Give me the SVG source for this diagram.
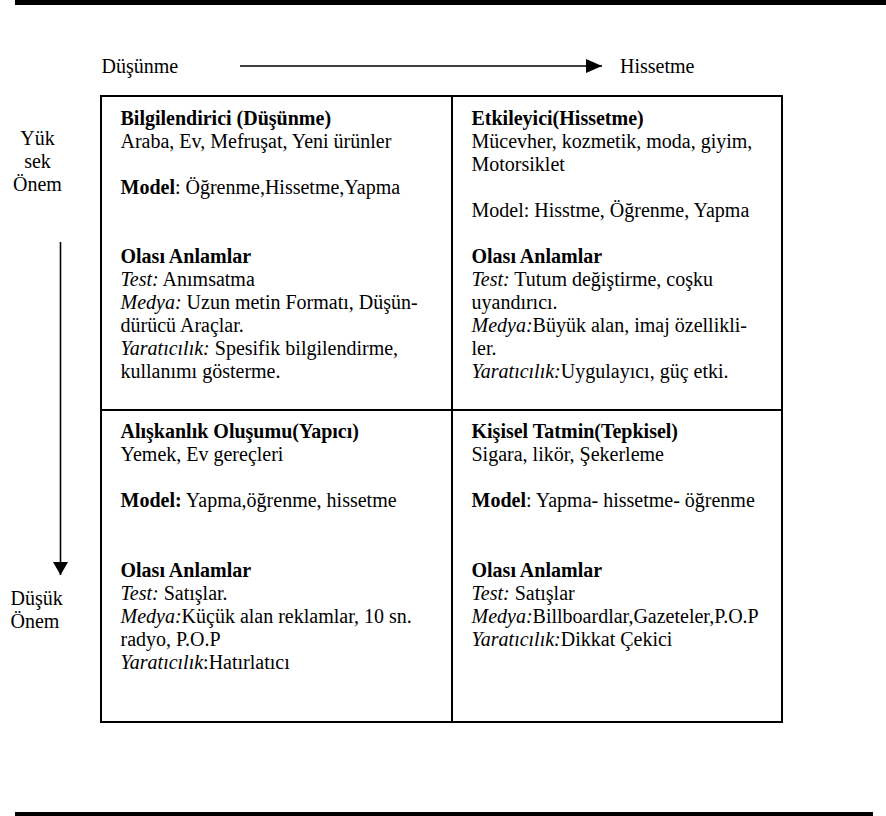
<svg xmlns="http://www.w3.org/2000/svg" width="886" height="816" viewBox="0 0 886 816" font-family="'Liberation Serif', Tinos, 'DejaVu Serif', serif">
<style>
text{font-family:'Liberation Serif', Tinos, 'DejaVu Serif', serif;font-size:20px;fill:#000}
.b{font-weight:bold}
.i{font-style:italic}
.mid{text-anchor:middle}
.box{fill:none;stroke:#000;stroke-width:2}
.ax{stroke:#000;stroke-width:1.6;fill:none}
</style>
<defs>
<marker id="ah" viewBox="0 0 16 14" refX="16" refY="7" markerWidth="16" markerHeight="14" markerUnits="userSpaceOnUse" orient="auto">
<path d="M0,0 L16,7 L0,14 Z" fill="#000"/>
</marker>
<marker id="av" viewBox="0 0 13 15" refX="13" refY="7.5" markerWidth="13" markerHeight="15" markerUnits="userSpaceOnUse" orient="auto">
<path d="M0,0 L13,7.5 L0,15 Z" fill="#000"/>
</marker>
</defs>
<rect x="15" y="0" width="871" height="5" fill="#000"/>
<rect x="15" y="812" width="858" height="4" fill="#000"/>

<g id="axis-labels">
<text x="101.5" y="73">Düşünme</text>
<text x="620" y="73">Hissetme</text>
<text class="mid" x="37.5" y="145">Yük</text>
<text class="mid" x="37.5" y="168">sek</text>
<text class="mid" x="37.5" y="191">Önem</text>
<text x="10.5" y="605">Düşük</text>
<text x="10.5" y="628">Önem</text>
</g>

<g id="connectors">
<line class="ax" x1="240" y1="66" x2="602" y2="66" marker-end="url(#ah)"/>
<line class="ax" x1="60.5" y1="242" x2="60.5" y2="575" marker-end="url(#av)"/>
</g>

<g id="grid">
<rect class="box" x="101" y="96" width="681" height="626"/>
<line class="box" x1="452" y1="96" x2="452" y2="722"/>
<line class="box" x1="101" y1="410" x2="782" y2="410"/>
</g>

<g id="q-bilgilendirici">
<text x="120.5" y="125" class="b">Bilgilendirici (Düşünme)</text>
<text x="120.5" y="148">Araba, Ev, Mefruşat, Yeni ürünler</text>
<text x="120.5" y="194"><tspan class="b">Model</tspan>: Öğrenme,Hissetme,Yapma</text>
<text x="120.5" y="263" class="b">Olası Anlamlar</text>
<text x="120.5" y="286"><tspan class="i">Test:</tspan> Anımsatma</text>
<text x="120.5" y="309"><tspan class="i">Medya:</tspan> Uzun metin Formatı, Düşün-</text>
<text x="120.5" y="332">dürücü Araçlar.</text>
<text x="120.5" y="355"><tspan class="i">Yaratıcılık:</tspan> Spesifik bilgilendirme,</text>
<text x="120.5" y="378">kullanımı gösterme.</text>
</g>

<g id="q-etkileyici">
<text x="471.5" y="125" class="b">Etkileyici(Hissetme)</text>
<text x="471.5" y="148">Mücevher, kozmetik, moda, giyim,</text>
<text x="471.5" y="171">Motorsiklet</text>
<text x="471.5" y="217">Model: Hisstme, Öğrenme, Yapma</text>
<text x="471.5" y="263" class="b">Olası Anlamlar</text>
<text x="471.5" y="286"><tspan class="i">Test:</tspan> Tutum değiştirme, coşku</text>
<text x="471.5" y="309">uyandırıcı.</text>
<text x="471.5" y="332"><tspan class="i">Medya:</tspan>Büyük alan, imaj özellikli-</text>
<text x="471.5" y="355">ler.</text>
<text x="471.5" y="378"><tspan class="i">Yaratıcılık:</tspan>Uygulayıcı, güç etki.</text>
</g>

<g id="q-aliskanlik">
<text x="120.5" y="438" class="b">Alışkanlık Oluşumu(Yapıcı)</text>
<text x="120.5" y="461">Yemek, Ev gereçleri</text>
<text x="120.5" y="507"><tspan class="b">Model:</tspan> Yapma,öğrenme, hissetme</text>
<text x="120.5" y="577" class="b">Olası Anlamlar</text>
<text x="120.5" y="600"><tspan class="i">Test:</tspan> Satışlar.</text>
<text x="120.5" y="623"><tspan class="i">Medya:</tspan>Küçük alan reklamlar, 10 sn.</text>
<text x="120.5" y="646">radyo, P.O.P</text>
<text x="120.5" y="669"><tspan class="i">Yaratıcılık</tspan>:Hatırlatıcı</text>
</g>

<g id="q-kisisel">
<text x="471.5" y="438" class="b">Kişisel Tatmin(Tepkisel)</text>
<text x="471.5" y="461">Sigara, likör, Şekerleme</text>
<text x="471.5" y="507"><tspan class="b">Model</tspan>: Yapma- hissetme- öğrenme</text>
<text x="471.5" y="577" class="b">Olası Anlamlar</text>
<text x="471.5" y="600"><tspan class="i">Test:</tspan> Satışlar</text>
<text x="471.5" y="623"><tspan class="i">Medya:</tspan>Billboardlar,Gazeteler,P.O.P</text>
<text x="471.5" y="646"><tspan class="i">Yaratıcılık:</tspan>Dikkat Çekici</text>
</g>
</svg>
